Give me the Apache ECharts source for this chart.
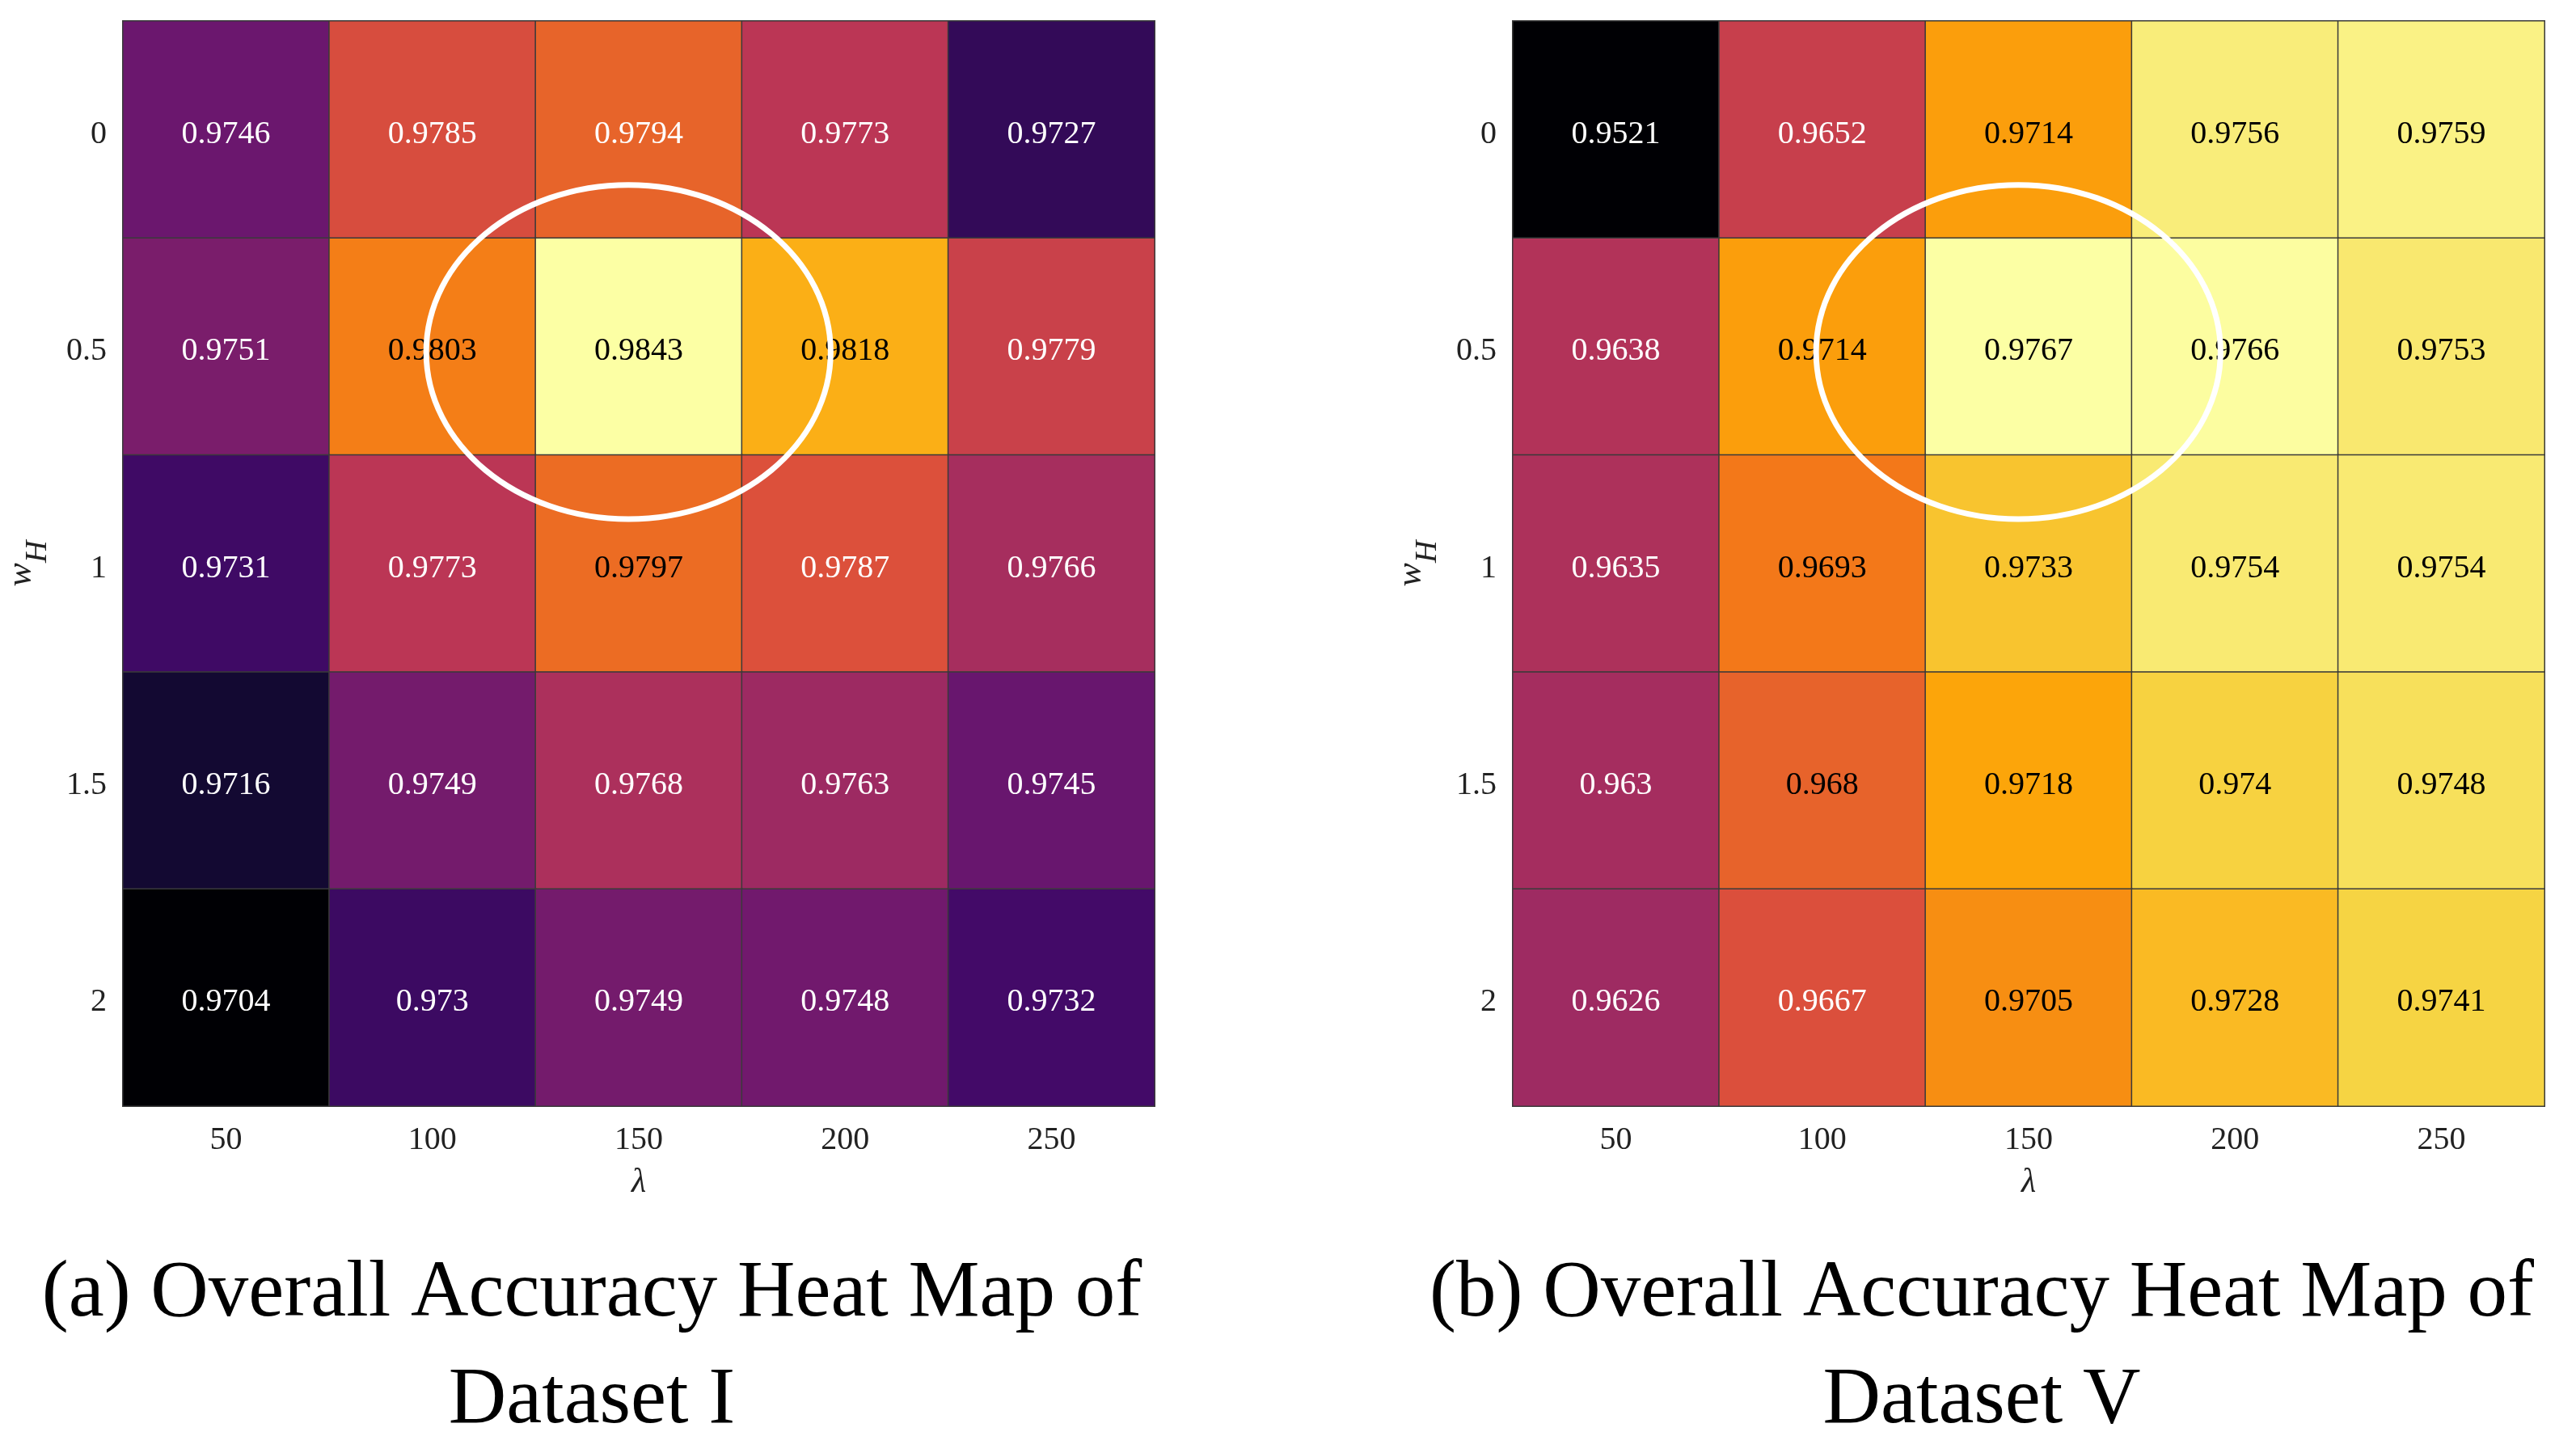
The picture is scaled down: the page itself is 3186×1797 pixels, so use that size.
<!DOCTYPE html>
<html>
<head>
<meta charset="utf-8">
<script src="https://cdn.jsdelivr.net/npm/echarts@6/dist/echarts.min.js"></script>
<style>
html,body{margin:0;padding:0;background:#fff;}
#main{width:3186px;height:1797px;}
</style>
</head>
<body>
<div id="main"></div>
<script>
// ---------- data ----------
const lambdaLabels = ['50', '100', '150', '200', '250'];
const wHLabels = ['0', '0.5', '1', '1.5', '2'];

// rows: w_H = 0, 0.5, 1, 1.5, 2 ; columns: lambda = 50..250
const accDatasetI = [
  [0.9746, 0.9785, 0.9794, 0.9773, 0.9727],
  [0.9751, 0.9803, 0.9843, 0.9818, 0.9779],
  [0.9731, 0.9773, 0.9797, 0.9787, 0.9766],
  [0.9716, 0.9749, 0.9768, 0.9763, 0.9745],
  [0.9704, 0.9730, 0.9749, 0.9748, 0.9732]
];
const accDatasetV = [
  [0.9521, 0.9652, 0.9714, 0.9756, 0.9759],
  [0.9638, 0.9714, 0.9767, 0.9766, 0.9753],
  [0.9635, 0.9693, 0.9733, 0.9754, 0.9754],
  [0.9630, 0.9680, 0.9718, 0.9740, 0.9748],
  [0.9626, 0.9667, 0.9705, 0.9728, 0.9741]
];
const titleI = '(a) Overall Accuracy Heat Map of\nDataset I';
const titleV = '(b) Overall Accuracy Heat Map of\nDataset V';
// cell (column, row) that is circled
const highlightCell = [2, 1];

// ---------- style ----------
const FONT = '"Liberation Serif", "Times New Roman", serif';
const inferno = ['#000004', '#160b39', '#420a68', '#6a176e', '#932667', '#bc3754',
                 '#dd513a', '#f37819', '#fca50a', '#f6d746', '#fcffa4'];
const darkLabelFrom = [0.9795, 0.9674]; // values at/above use black text

function buildData(mat, thr) {
  const out = [];
  mat.forEach((row, r) => row.forEach((v, c) => {
    out.push({ value: [c, r, v], label: { color: v >= thr ? '#000000' : '#ffffff' } });
  }));
  return out;
}
function flat(mat) { return [].concat(...mat); }

const grids = [
  { left: 152, top: 26, width: 1276, height: 1342 },
  { left: 1871, top: 26, width: 1276, height: 1342 }
];
const mats = [accDatasetI, accDatasetV];

const xAxes = [], yAxes = [], series = [], visualMaps = [];
mats.forEach((m, i) => {
  xAxes.push({
    type: 'category', gridIndex: i, data: lambdaLabels,
    name: 'λ', nameLocation: 'middle', nameGap: 74,
    nameTextStyle: { fontFamily: FONT, fontSize: 42, fontStyle: 'italic', color: '#222' },
    axisLine: { show: true, lineStyle: { color: '#444', width: 2 } },
    axisTick: { show: false },
    axisLabel: { fontFamily: FONT, fontSize: 40, color: '#222', margin: 22 },
    splitLine: { show: false }
  });
  yAxes.push({
    type: 'category', gridIndex: i, data: wHLabels, inverse: true,
    name: '{w|w}{h|H}', nameLocation: 'middle', nameGap: 86, nameRotate: 90,
    nameTextStyle: {
      fontFamily: FONT, color: '#222',
      rich: {
        w: { fontFamily: FONT, fontSize: 44, fontStyle: 'italic', color: '#222', lineHeight: 62, verticalAlign: 'top' },
        h: { fontFamily: FONT, fontSize: 38, fontStyle: 'italic', color: '#222', lineHeight: 62, verticalAlign: 'bottom' }
      }
    },
    axisLine: { show: true, lineStyle: { color: '#444', width: 2 } },
    axisTick: { show: false },
    axisLabel: {
      fontFamily: FONT, fontSize: 40, color: '#222', margin: 20,
      formatter: v => '{t|' + v + '}',
      rich: { t: { fontFamily: FONT, fontSize: 40, color: '#222', padding: [12, 0, 0, 0] } }
    },
    splitLine: { show: false }
  });
  const vals = flat(m);
  visualMaps.push({
    type: 'continuous', show: false, seriesIndex: i, dimension: 2,
    min: Math.min(...vals), max: Math.max(...vals),
    inRange: { color: inferno }
  });
  series.push({
    type: 'heatmap', xAxisIndex: i, yAxisIndex: i,
    data: buildData(m, darkLabelFrom[i]),
    label: {
      show: true, fontFamily: FONT, fontSize: 40, offset: [0, 6],
      formatter: p => String(p.value[2])
    },
    itemStyle: { borderColor: '#3a3a3a', borderWidth: 1.5 },
    emphasis: { disabled: true }
  });
});

const chart = echarts.init(document.getElementById('main'), null, { renderer: 'canvas' });
chart.setOption({
  backgroundColor: '#ffffff',
  animation: false,
  grid: grids,
  xAxis: xAxes,
  yAxis: yAxes,
  visualMap: visualMaps,
  series: series
});

function drawOverlays() {
  const els = [];
  grids.forEach((g, i) => {
    const cw = g.width / lambdaLabels.length;
    const ch = g.height / wHLabels.length;
    const c = chart.convertToPixel({ gridIndex: i }, highlightCell);
    els.push({
      type: 'ellipse', z: 100, silent: true,
      shape: { cx: c[0] - 0.05 * cw, cy: c[1] + 0.025 * ch, rx: 0.98 * cw, ry: 0.77 * ch },
      style: { fill: 'none', stroke: '#ffffff', lineWidth: 7 }
    });
  });
  const titles = [titleI, titleV];
  grids.forEach((g, i) => {
    els.push({
      type: 'text', z: 100, silent: true,
      x: g.left + g.width / 2 - 58, y: 1535,
      style: {
        text: titles[i], fontFamily: FONT, fontSize: 99, lineHeight: 132,
        fill: '#000', textAlign: 'center', textVerticalAlign: 'top'
      }
    });
  });
  chart.setOption({ graphic: els });
}
drawOverlays();
</script>
</body>
</html>
